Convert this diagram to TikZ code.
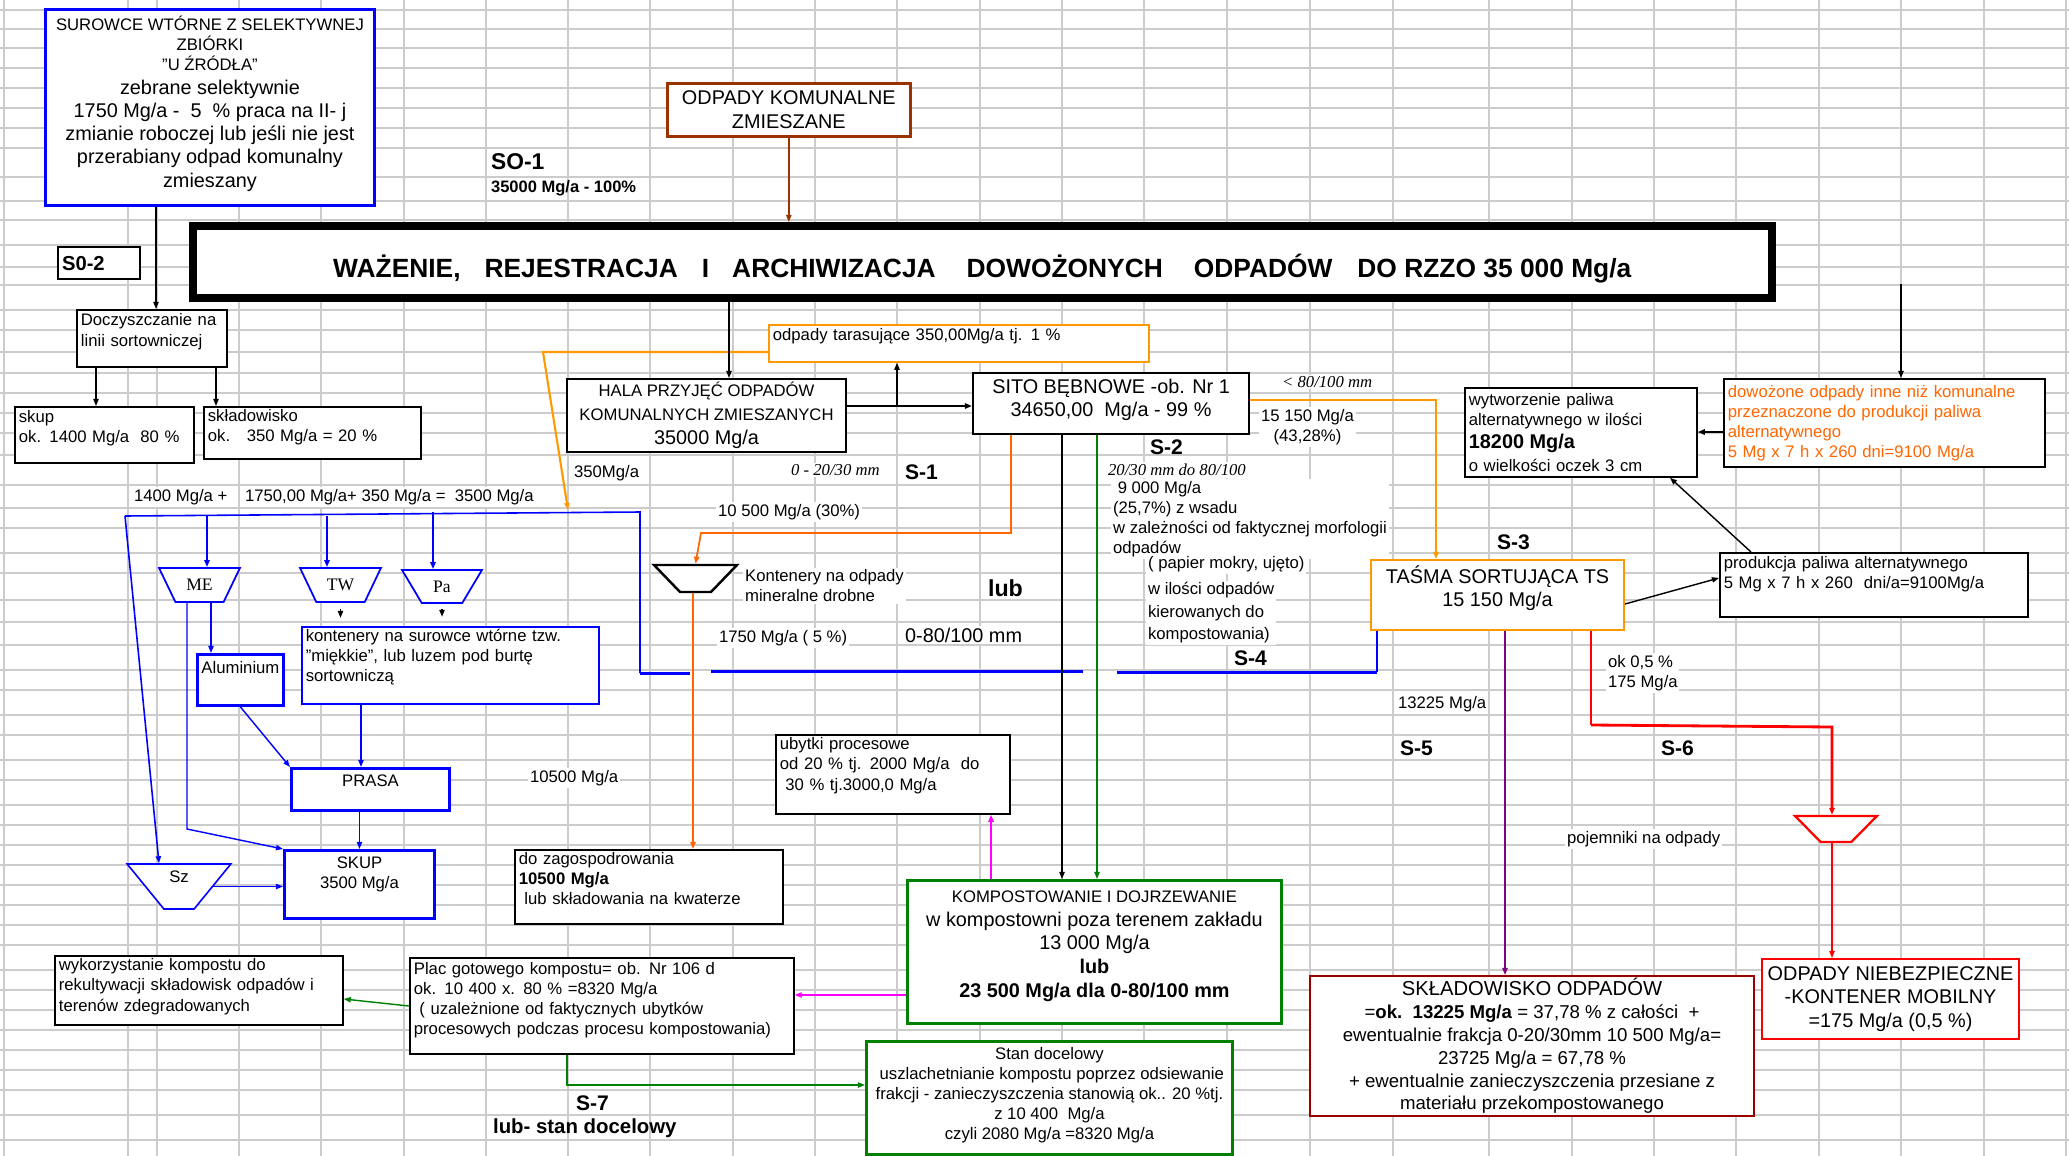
\documentclass[tikz,border=0pt]{standalone}
\usepackage{fontspec}
\setmainfont{Liberation Sans}
\newfontfamily\serf{Liberation Serif}
\usetikzlibrary{arrows.meta,shapes.geometric}
\definecolor{wasteBrown}{RGB}{153,51,0}
\definecolor{flowBlue}{RGB}{0,0,255}
\definecolor{flowOrange}{RGB}{255,153,0}
\definecolor{flowOrangeRed}{RGB}{255,102,0}
\definecolor{flowGreen}{RGB}{0,128,0}
\definecolor{flowMagenta}{RGB}{255,0,255}
\definecolor{flowPurple}{RGB}{128,0,128}
\definecolor{flowRed}{RGB}{255,0,0}
\definecolor{wasteDarkRed}{RGB}{153,0,0}
\newcommand{\txs}{\fontsize{9.5}{11.4}\selectfont}
\newcommand{\txm}{\fontsize{11.3}{13.6}\selectfont}
\newcommand{\pnt}[2]{\coordinate (#1) at (#2);}
\tikzset{
  grd/.style={gray!40, line width=0.8pt},
  box/.style={draw, fill=white, anchor=north west, inner xsep=0.08cm, inner ysep=1pt, line width=1pt},
  lbl/.style={anchor=west, inner sep=1pt},
  wlbl/.style={lbl, fill=white},
  sec/.style={lbl, font=\bfseries\fontsize{12}{14}\selectfont},
  ital/.style={wlbl, font=\serf\itshape\txs},
  funnel/.style={trapezium, shape border rotate=180, trapezium stretches=true, draw, fill=white, inner sep=1pt, font=\serf\fontsize{10}{12}\selectfont},
  arr/.style={-{Triangle[length=4pt,width=3pt]}, line width=0.8pt}
}

\begin{document}
\begin{tikzpicture}[x=0.02cm,y=-0.02cm,font=\txs]
\useasboundingbox (0,0) rectangle (2069,1156);
\fill[white] (0,0) rectangle (2069,1156);
% sheet grid
\foreach \gx in {4,128,157,239,321,404,486,568,650,733,815,897,980,1062,1144,1227,1310,1393,1489,1572,1654,1736,1819,1901,1984,2066}
  \draw[grd] (\gx,0) -- (\gx,1156);
\foreach \gy in {10,29,48,68,88,108,128,148,177,201,220,245,267,285,310,330,352,373,393,413,433,455,485,508,528,553,573,600,622,645,670,690,715,735,760,780,805,825,845,865,885,905,925,945,970,990,1010,1030,1050,1070,1090,1115,1140}
  \draw[grd] (0,\gy) -- (2069,\gy);

% top row
\node[box, draw=flowBlue, line width=1.7pt, align=center, minimum width=6.58cm, minimum height=3.92cm, text depth=7pt] (sur) at (44,8)
  {SUROWCE WTÓRNE Z SELEKTYWNEJ\\ ZBIÓRKI\\ "U ŹRÓDŁA"\\[2.4pt] \txm zebrane selektywnie\\[1.8pt] \txm 1750 Mg/a -~~5~~\% praca na II- j\\[1.8pt] \txm zmianie roboczej lub jeśli nie jest\\[1.8pt] \txm przerabiany odpad komunalny\\[1.8pt] \txm zmieszany};
\node[box, line width=1.2pt, minimum width=1.64cm, minimum height=0.64cm, text width=1.48cm, align=left, font=\bfseries\fontsize{11.5}{13}\selectfont] (s02) at (57,246) {S0-2};
\node[box, draw=wasteBrown, line width=1.5pt, align=center, minimum width=4.86cm, minimum height=1.06cm, font=\txm] (odk) at (666,82) {ODPADY KOMUNALNE\\ ZMIESZANE};
\node[lbl, font=\bfseries\fontsize{13}{15}\selectfont] (so1) at (489,162) {SO-1};
\node[lbl, font=\bfseries\fontsize{9.4}{11}\selectfont] (so1v) at (489,188) {35000 Mg/a - 100\%};
\node[box, line width=4.5pt, minimum width=31.58cm, minimum height=1.44cm, text height=21pt, font=\bfseries\fontsize{15}{18}\selectfont] (wag) at (189,222)
  {WAŻENIE,\hspace{0.48cm}REJESTRACJA\hspace{0.48cm}I\hspace{0.46cm}ARCHIWIZACJA\hspace{0.62cm}DOWOŻONYCH\hspace{0.62cm}ODPADÓW\hspace{0.5cm}DO RZZO 35 000 Mg/a};

% left branch: selective collection
\node[box, minimum width=3.0cm, minimum height=1.14cm, text width=2.84cm, align=left, text depth=21pt] (doc) at (76,309) {Doczyszczanie na\\ linii sortowniczej};
\node[box, minimum width=3.58cm, minimum height=1.12cm, text width=3.42cm, align=left, text depth=21pt] (skup) at (14,406) {skup\\ ok. 1400 Mg/a~~80 \%};
\node[box, minimum width=4.34cm, minimum height=1.04cm, text width=4.18cm, align=left, text depth=20pt] (skl) at (203,406) {składowisko\\ ok.~~~350 Mg/a = 20 \%};
\node[lbl] (l350) at (572,473) {350Mg/a};
\node[wlbl] (lsumA) at (132,497) {1400 Mg/a +};
\node[wlbl] (lsumB) at (243,497) {1750,00 Mg/a+ 350 Mg/a =~~3500 Mg/a};
\node[funnel, draw=flowBlue, line width=1pt, trapezium angle=56, minimum width=1.62cm, minimum height=0.68cm] (me) at (199.5,585) {ME};
\node[funnel, draw=flowBlue, line width=1pt, trapezium angle=56, minimum width=1.62cm, minimum height=0.68cm] (tw) at (340.5,585) {TW};
\node[funnel, draw=flowBlue, line width=1pt, trapezium angle=56, minimum width=1.6cm, minimum height=0.66cm] (pa) at (442,586.5) {Pa};
\node[box, draw=flowBlue, line width=1.7pt, minimum width=1.68cm, minimum height=1.02cm, text depth=14pt] (alu) at (196,653) {Aluminium};
\node[box, draw=flowBlue, line width=0.9pt, minimum width=5.94cm, minimum height=1.54cm, text width=5.78cm, align=left, text depth=33.6pt] (kont) at (301,626)
  {kontenery na surowce wtórne tzw.\\ "miękkie", lub luzem pod burtę\\ sortowniczą};
\node[box, draw=flowBlue, line width=1.7pt, minimum width=3.16cm, minimum height=0.84cm, text depth=10pt] (prasa) at (290,767) {PRASA};
\node[box, draw=flowBlue, line width=1.7pt, minimum width=3.0cm, minimum height=1.36cm, align=center, text depth=14pt] (skp) at (283,849) {SKUP\\ 3500 Mg/a};
\node[funnel, draw=flowBlue, line width=0.9pt, trapezium angle=51, minimum width=2.08cm, minimum height=0.9cm, font=\txs, text depth=11pt] (sz) at (179,886.5) {Sz};

% middle: hall, screen, compost
\node[box, line width=1.2pt, minimum width=5.58cm, minimum height=1.46cm, align=center, font=\fontsize{9.5}{13.6}\selectfont] (hala) at (566,378)
  {HALA PRZYJĘĆ ODPADÓW\\ KOMUNALNYCH ZMIESZANYCH\\ \txm 35000 Mg/a};
\node[box, draw=flowOrange, minimum width=7.6cm, minimum height=0.74cm, text width=7.44cm, align=left, text depth=9.7pt] (tar) at (768,324) {odpady tarasujące 350,00Mg/a tj. 1 \%};
\node[box, line width=1.2pt, minimum width=5.52cm, minimum height=1.22cm, align=center, font=\txm, text depth=6.5pt] (sito) at (972,372) {SITO BĘBNOWE -ob. Nr 1\\ 34650,00~~Mg/a - 99 \%};
\node[ital] (lfine) at (789,470) {0 - 20/30 mm};
\node[sec] (lS1) at (903,472) {S-1};
\node[wlbl] (l10500) at (716,512) {10 500 Mg/a (30\%)};
\node[funnel, line width=1.4pt, trapezium angle=50, minimum width=1.66cm, minimum height=0.54cm] (kmd) at (695.5,578.5) {};
\node[wlbl, align=left] (lkont) at (743,586) {Kontenery na odpady\\ mineralne drobne};
\node[lbl, font=\bfseries\fontsize{13.2}{15}\selectfont] (llub) at (986,588) {lub};
\node[wlbl] (l1750) at (717,638) {1750 Mg/a ( 5 \%)};
\node[wlbl, font=\txm] (l080) at (903,635) {0-80/100 mm};
\node[wlbl] (l10500b) at (528,778) {10500 Mg/a};
\node[box, minimum width=5.36cm, minimum height=1.48cm, text width=5.2cm, align=left, text depth=32pt] (zag) at (514,849)
  {do zagospodrowania\\ \textbf{10500 Mg/a}\\ ~lub składowania na kwaterze};
\node[box, minimum width=4.68cm, minimum height=1.58cm, text width=4.52cm, align=left, text depth=34.7pt] (ub) at (775,734)
  {ubytki procesowe\\ od 20 \% tj. 2000 Mg/a~~do\\ ~30 \% tj.3000,0 Mg/a};
\node[box, draw=flowGreen, line width=1.7pt, minimum width=7.48cm, minimum height=2.86cm, align=center, font=\txm, text depth=9pt] (kmp) at (906,879)
  {\txs KOMPOSTOWANIE I DOJRZEWANIE\\ w kompostowni poza terenem zakładu\\ 13 000 Mg/a\\ \bfseries lub\\ \bfseries 23 500 Mg/a dla 0-80/100 mm};
\node[box, minimum width=5.76cm, minimum height=1.38cm, text width=5.6cm, align=left, text depth=29pt] (wyk) at (54,955)
  {wykorzystanie kompostu do\\ rekultywacji składowisk odpadów i\\ terenów zdegradowanych};
\node[box, minimum width=7.68cm, minimum height=1.92cm, text width=7.52cm, align=left, text depth=42.5pt] (plac) at (409,957)
  {Plac gotowego kompostu= ob. Nr 106 d\\ ok. 10 400 x. 80 \% =8320 Mg/a\\ ~( uzależnione od faktycznych ubytków\\ procesowych podczas procesu kompostowania)};
\node[box, draw=flowGreen, line width=1.7pt, inner xsep=1pt, minimum width=7.32cm, minimum height=2.26cm, align=center, text depth=5pt] (stan) at (865,1040)
  {Stan docelowy\\ ~uszlachetnianie kompostu poprzez odsiewanie\\ frakcji - zanieczyszczenia stanowią ok.. 20 \%tj.\\ z 10 400~~Mg/a\\ czyli 2080 Mg/a =8320 Mg/a};
\node[sec] (lS7) at (574,1103) {S-7};
\node[lbl, font=\bfseries\fontsize{11.6}{14}\selectfont] (lstan) at (491,1128) {lub- stan docelowy};

% right part: sorting belt, fuel, landfill
\node[ital] (lcoarse) at (1280,382) {< 80/100 mm};
\node[wlbl, align=center] (l15150) at (1259,427) {15 150 Mg/a\\ (43,28\%)};
\node[sec] (lS2) at (1148,447) {S-2};
\node[ital] (lmid) at (1106,470) {20/30 mm do 80/100};
\node[wlbl, align=left] (lmidA) at (1111,519) {~9 000 Mg/a\\ (25,7\%) z wsadu\\ w zależności od faktycznej morfologii\\ odpadów};
\node[wlbl] (lmidB) at (1146,564) {( papier mokry, ujęto)};
\node[wlbl, align=left, font=\fontsize{9.5}{12.8}\selectfont] (lmidC) at (1146,613) {w ilości odpadów\\ kierowanych do\\ kompostowania)};
\node[box, minimum width=4.64cm, minimum height=1.78cm, text width=4.48cm, align=left] (wyt) at (1464,387)
  {wytworzenie paliwa\\ alternatywnego w ilości\\[1.8pt] {\txm\bfseries 18200 Mg/a}\\[1.8pt] o wielkości oczek 3 cm};
\node[box, minimum width=6.42cm, minimum height=1.76cm, text width=6.26cm, align=left, text=flowOrangeRed] (dow) at (1723,378)
  {dowożone odpady inne niż komunalne\\ przeznaczone do produkcji paliwa\\ alternatywnego\\ 5 Mg x 7 h x 260 dni=9100 Mg/a};
\node[sec] (lS3) at (1495,542) {S-3};
\node[box, draw=flowOrange, line width=1.2pt, minimum width=5.06cm, minimum height=1.4cm, align=center, font=\fontsize{11.3}{13}\selectfont, text depth=10pt] (tas) at (1370,559)
  {TAŚMA SORTUJĄCA TS\\ 15 150 Mg/a};
\node[box, minimum width=6.16cm, minimum height=1.28cm, text width=6.0cm, align=left, text depth=25pt] (prd) at (1719,552)
  {produkcja paliwa alternatywnego\\ 5 Mg x 7 h x 260~~dni/a=9100Mg/a};
\node[sec] (lS4) at (1232,658) {S-4};
\node[wlbl, align=left] (lhaz) at (1606,673) {ok 0,5 \%\\ 175 Mg/a};
\node[lbl] (l13225) at (1396,704) {13225 Mg/a};
\node[sec] (lS5) at (1398,748) {S-5};
\node[sec] (lS6) at (1659,748) {S-6};
\node[wlbl] (lpoj) at (1565,839) {pojemniki na odpady};
\node[funnel, draw=flowRed, line width=1.3pt, trapezium angle=50, minimum width=1.64cm, minimum height=0.52cm] (poj) at (1836,829) {};
\node[box, draw=wasteDarkRed, line width=1.2pt, minimum width=8.88cm, minimum height=2.8cm, align=center, font=\fontsize{10.6}{13}\selectfont] (sk) at (1309,975)
  {{\fontsize{11.5}{13}\selectfont SKŁADOWISKO ODPADÓW}\\ =\textbf{ok.~~13225 Mg/a} = 37,78 \% z całości~~+\\ ewentualnie frakcja 0-20/30mm 10 500 Mg/a=\\ 23725 Mg/a = 67,78 \%\\ + ewentualnie zanieczyszczenia przesiane z\\ materiału przekompostowanego};
\node[box, draw=flowRed, line width=1.2pt, inner xsep=1pt, minimum width=5.14cm, minimum height=1.6cm, align=center, font=\fontsize{11.3}{13.3}\selectfont] (on) at (1761,958)
  {ODPADY NIEBEZPIECZNE\\ -KONTENER MOBILNY\\ =175 Mg/a (0,5 \%)};

% bend points and free ends
\pnt{bl}{125,516}
\pnt{br}{640,512}
\pnt{bA}{640,673}
\pnt{bB}{690,673}
\pnt{bC}{711,671}
\pnt{bD}{1083,671}
\pnt{bE}{1117,672}
\pnt{bF}{1377,672}
\pnt{mk}{187,829}
\pnt{tl}{543,352}
\pnt{te}{568,510}
\pnt{hs}{897,406}
\pnt{st}{1436,400}
\pnt{sa}{1011,533}
\pnt{sb}{701,533}
\pnt{pg}{567,1085}
\pnt{tb}{1901,284}
\pnt{ra}{1591,725}
\pnt{rb}{1832,727}

% connectors
\draw[arr, wasteBrown] (odk.south) -- (odk.south |- wag.north);
\draw[arr] (sur.south -| 156,0) -- (doc.north -| 156,0);
\draw[arr] (doc.south -| 96,0) -- (skup.north -| 96,0);
\draw[arr] (doc.south -| 216,0) -- (skl.north -| 216,0);
\draw[flowBlue, line width=0.9pt] (bl) -- (br) -- (bA);
\draw[flowBlue, line width=1.7pt] (bA) -- (bB);
\draw[flowBlue, line width=1.7pt] (bC) -- (bD);
\draw[flowBlue, line width=1.7pt] (bE) -- (bF);
\draw[flowBlue, line width=0.9pt] (bF) -- (tas.south -| bF);
\draw[arr, flowBlue, line width=1.3pt] (bl -| 207,0) -- (me.north -| 207,0);
\draw[arr, flowBlue, line width=1.3pt] (bl -| 327,0) -- (tw.north -| 327,0);
\draw[arr, flowBlue, line width=1.3pt] (br -| 433,0) -- (pa.north -| 433,0);
\draw[arr] ([yshift=-0.12cm]tw.south) -- ([yshift=-0.3cm]tw.south);
\draw[arr] ([yshift=-0.1cm]pa.south) -- ([yshift=-0.26cm]pa.south);
\draw[arr, flowBlue] (me.south -| 211,0) -- (alu.north -| 211,0);
\draw[arr, flowBlue] (me.south -| mk) -- (mk) -- (skp.north west);
\draw[arr, flowBlue, line width=0.9pt] (bl) -- (sz.north -| 159,0);
\draw[arr, flowBlue] (alu.south) -- (prasa.north west);
\draw[arr, flowBlue] (kont.south -| 361,0) -- (prasa.north -| 361,0);
\draw[arr, flowBlue] (prasa.south -| skp.north) -- (skp.north);
\draw[arr, flowBlue] (sz.east) -- (sz.east -| skp.west);
\draw[arr, flowOrange, line width=1.2pt] (tar.west |- tl) -- (tl) -- (te);
\draw[arr] (wag.south -| 729,0) -- (hala.north -| 729,0);
\draw[arr, line width=1.2pt] (hala.east |- hs) -- (sito.west |- hs);
\draw[arr] (hs) -- (hs |- tar.south);
\draw[arr, flowOrange, line width=1.4pt] (sito.east |- st) -- (st) -- (st |- tas.north);
\draw[arr, flowOrangeRed, line width=1pt] (sito.south -| sa) -- (sa) -- (sb) -- (kmd.north);
\draw[arr, flowOrangeRed, line width=1pt] (kmd.south -| 693,0) -- (zag.north -| 693,0);
\draw[arr] (sito.south -| 1062,0) -- (kmp.north -| 1062,0);
\draw[arr, flowGreen] (sito.south -| 1097,0) -- (kmp.north -| 1097,0);
\draw[arr, flowMagenta] (kmp.north -| 991,0) -- (ub.south -| 991,0);
\draw[arr, flowMagenta] (kmp.west |- 0,995) -- (plac.east |- 0,995);
\draw[arr, flowGreen] (plac.west |- 0,1006) -- (wyk.east |- 0,999);
\draw[arr, flowGreen] (plac.south -| pg) -- (pg) -- (pg -| stan.west);
\draw[arr] (tas.east |- 0,604) -- (prd.west |- 0,578);
\draw[arr] (prd.north -| 1751,0) -- (wyt.south -| 1670,0);
\draw[arr, line width=1.2pt] (dow.west |- 0,432) -- (wyt.east |- 0,432);
\draw[arr] (tb) -- (tb |- dow.north);
\draw[arr, flowPurple] (tas.south -| 1505,0) -- (sk.north -| 1505,0);
\draw[flowRed, line width=0.8pt] (tas.south -| ra) -- (ra);
\draw[arr, flowRed, line width=1.6pt] (ra) -- (rb) -- (rb |- poj.north);
\draw[arr, flowRed] (poj.south -| rb) -- (rb |- on.north);
\end{tikzpicture}
\end{document}
